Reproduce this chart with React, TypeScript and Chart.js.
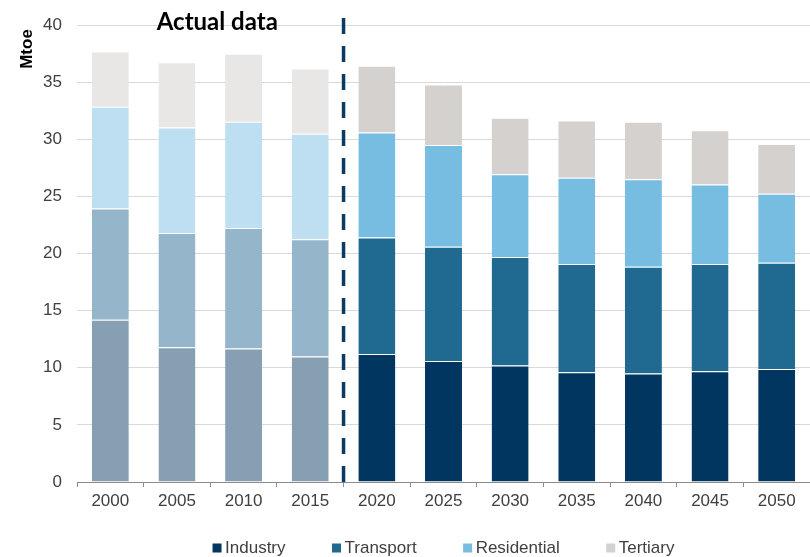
import React, { useEffect, useRef } from "react";
import { Chart, registerables } from "chart.js";

Chart.register(...registerables);

// Final energy consumption by sector, Mtoe
const years = ["2000", "2005", "2010", "2015", "2020", "2025", "2030", "2035", "2040", "2045", "2050"];
const industry = [14.2, 11.8, 11.7, 11.0, 11.2, 10.6, 10.2, 9.6, 9.5, 9.7, 9.9];
const transport = [9.75, 10.0, 10.55, 10.25, 10.2, 10.0, 9.5, 9.5, 9.35, 9.4, 9.3];
const residential = [8.9, 9.25, 9.3, 9.25, 9.2, 8.9, 7.25, 7.55, 7.65, 6.95, 6.05];
const tertiary = [4.85, 5.7, 5.95, 5.7, 5.85, 5.3, 4.95, 5.0, 5.05, 4.75, 4.35];

// The first four years are recorded values, the rest are projections
const actualCount = 4;
const yTicks = [0, 5, 10, 15, 20, 25, 30, 35, 40];

const sectors = [
  { label: "Industry", values: industry, actual: "#879fb2", projected: "#00365f" },
  { label: "Transport", values: transport, actual: "#95b6ca", projected: "#206a91" },
  { label: "Residential", values: residential, actual: "#bedff2", projected: "#76bde1" },
  { label: "Tertiary", values: tertiary, actual: "#e8e7e5", projected: "#d4d1ce" },
];

const FONT = "'Liberation Sans', Arial, sans-serif";
const TEXT = "#404040";

const dividerPlugin = {
  id: "divider",
  afterDatasetsDraw(chart: any) {
    const { ctx, chartArea, scales } = chart;
    const x = (scales.x.getPixelForValue(actualCount - 1) + scales.x.getPixelForValue(actualCount)) / 2;
    ctx.save();
    ctx.strokeStyle = "#0b3a63";
    ctx.lineWidth = 3.5;
    ctx.setLineDash([16, 12]);
    ctx.beginPath();
    ctx.moveTo(x, chartArea.bottom);
    ctx.lineTo(x, 18);
    ctx.stroke();
    ctx.setLineDash([]);

    // heading over the recorded years
    ctx.fillStyle = "#000000";
    ctx.font = `bold 24px Lato, ${FONT}`;
    ctx.textAlign = "center";
    ctx.textBaseline = "alphabetic";
    ctx.fillText("Actual data", (chartArea.left + x) / 2 + 7, 30);

    // unit label at the top of the value axis
    ctx.save();
    ctx.translate(27, 49);
    ctx.rotate(-Math.PI / 2);
    ctx.font = `bold 17px ${FONT}`;
    ctx.textBaseline = "middle";
    ctx.fillStyle = "#000000";
    ctx.fillText("Mtoe", 0, 0);
    ctx.restore();
    ctx.restore();
  },
};

const legendPlugin = {
  id: "sectorLegend",
  afterDraw(chart: any) {
    const { ctx, chartArea } = chart;
    const box = 9;
    const gapText = 3.5;
    const spacing = 46.5;
    ctx.save();
    ctx.font = `17px ${FONT}`;
    const items = chart.data.datasets.map((ds: any) => ({
      label: ds.label,
      color: ds.legendColor,
      w: box + gapText + ctx.measureText(ds.label).width,
    }));
    const total = items.reduce((s: number, it: any) => s + it.w, 0) + spacing * (items.length - 1);
    let x = (chartArea.left + chartArea.right) / 2 - total / 2;
    const y = 548;
    ctx.textBaseline = "middle";
    ctx.textAlign = "left";
    items.forEach((it: any) => {
      ctx.fillStyle = it.color;
      ctx.fillRect(x, y - box / 2, box, box);
      ctx.fillStyle = TEXT;
      ctx.fillText(it.label, x + box + gapText, y);
      x += it.w + spacing;
    });
    ctx.restore();
  },
};

export default function App() {
  const canvasRef = useRef<HTMLCanvasElement | null>(null);

  useEffect(() => {
    document.body.style.margin = "0";
    const canvas = canvasRef.current;
    if (!canvas) return;
    const chart = new Chart(canvas, {
      type: "bar",
      data: {
        labels: years,
        datasets: sectors.map((s) => ({
          label: s.label,
          data: s.values,
          legendColor: s.projected,
          backgroundColor: years.map((_, i) => (i < actualCount ? s.actual : s.projected)),
          borderColor: "#ffffff",
          borderWidth: { top: 1, bottom: 0, left: 0, right: 0 },
          borderSkipped: false,
          barPercentage: 0.555,
          categoryPercentage: 1,
        })) as any,
      },
      options: {
        animation: false,
        responsive: false,
        maintainAspectRatio: false,
        layout: { padding: { top: 25, right: 0, bottom: 0, left: 0 } },
        plugins: {
          legend: { display: false },
          tooltip: { enabled: false },
        },
        scales: {
          x: {
            stacked: true,
            grid: {
              display: true,
              offset: true,
              drawOnChartArea: false,
              drawTicks: true,
              tickLength: 5,
              color: "#8c8c8c",
            },
            border: { display: true, color: "#8c8c8c", width: 1 },
            ticks: { color: TEXT, font: { family: FONT, size: 17 }, padding: 4, maxRotation: 0 },
            afterFit(scale: any) {
              scale.height = 75;
            },
          },
          y: {
            stacked: true,
            min: 0,
            max: 40,
            afterBuildTicks(scale: any) {
              scale.ticks = yTicks.map((v) => ({ value: v }));
            },
            grid: { color: "#d9d9d9", drawTicks: false, lineWidth: 1 },
            border: { display: false },
            ticks: { color: TEXT, font: { family: FONT, size: 17 }, padding: 15 },
            afterFit(scale: any) {
              scale.width = 77;
            },
          },
        },
      },
      plugins: [dividerPlugin, legendPlugin],
    });
    return () => chart.destroy();
  }, []);

  return <canvas ref={canvasRef} width={810} height={557} style={{ display: "block" }} />;
}
